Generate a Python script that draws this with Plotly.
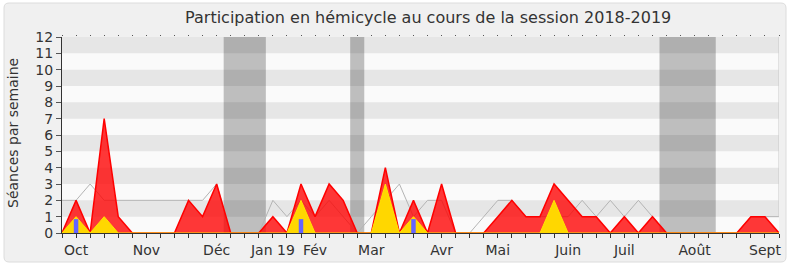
import plotly.graph_objects as go

# weekly index 0..51 (session 2018-2019)
weeks = list(range(52))
presence = [0, 2, 0, 7, 1, 0, 0, 0, 0, 2, 1, 3, 0, 0, 0, 1, 0, 3, 1, 3, 2, 0, 0, 4, 0, 2,
            0, 3, 0, 0, 0, 1, 2, 1, 1, 3, 2, 1, 1, 0, 1, 0, 1, 0, 0, 0, 0, 0, 0, 1, 1, 0]
interventions = [0, 1, 0, 1, 0, 0, 0, 0, 0, 0, 0, 0, 0, 0, 0, 0, 0, 2, 0, 0, 0, 0, 0, 3, 0, 1,
                 0, 0, 0, 0, 0, 0, 0, 0, 0, 2, 0, 0, 0, 0, 0, 0, 0, 0, 0, 0, 0, 0, 0, 0, 0, 0]
median = [2, 2, 3, 2, 2, 2, 2, 2, 2, 2, 2, 3, 0, 0, 0, 2, 1, 2, 1, 2, 1, 0, 1, 2, 3, 1,
          2, 2, 0, 0, 1, 2, 2, 1, 1, 1, 1, 2, 1, 2, 1, 2, 1, 0, 0, 0, 0, 0, 0, 1, 1, 1]
question_weeks = [1, 17, 25]
question_values = [0.85, 0.85, 0.85]

month_weeks = [1, 6, 11, 15, 18, 22, 27, 31, 36, 40, 45, 50]
month_labels = ["Oct", "Nov", "Déc", "Jan 19", "Fév", "Mar", "Avr", "Mai", "Juin", "Juil", "Août", "Sept"]
vacations = [(11.5, 14.5), (20.5, 21.5), (42.5, 46.5)]
y_ticks = list(range(13))

FONT = "DejaVu Sans"

fig = go.Figure()
fig.add_trace(go.Scatter(x=weeks, y=median, mode="lines",
                         line=dict(color="#b4b4b4", width=1), hoverinfo="skip"))
fig.add_trace(go.Scatter(x=weeks, y=presence, mode="lines", fill="tozeroy",
                         fillcolor="rgba(255,0,0,0.78)",
                         line=dict(color="#ff0000", width=1.5), hoverinfo="skip"))
fig.add_trace(go.Scatter(x=weeks, y=interventions, mode="lines", fill="tozeroy",
                         fillcolor="#ffd700",
                         line=dict(color="#ffe400", width=1), hoverinfo="skip"))
# question bars drawn as thick vertical segments so they sit above the areas
qx, qy = [], []
for w, v in zip(question_weeks, question_values):
    qx += [w, w, None]
    qy += [0, v, None]
fig.add_trace(go.Scatter(x=qx, y=qy, mode="lines", line=dict(color="#6464ff", width=4.5),
                         hoverinfo="skip"))
fig.add_trace(go.Scatter(x=[None], y=[None], xaxis="x2", showlegend=False))

L, R, T, B = 62, 11, 37, 34
W, H = 790, 267
pw, ph = W - L - R, H - T - B

def px(x):
    return (x - L) / pw

def py(y):
    return (H - B - y) / ph

# rounded frame
x0, x1, y0, y1, r = 4, 786, 3, 262, 5
path = (f"M {px(x0 + r)},{py(y0)} L {px(x1 - r)},{py(y0)} Q {px(x1)},{py(y0)} {px(x1)},{py(y0 + r)} "
        f"L {px(x1)},{py(y1 - r)} Q {px(x1)},{py(y1)} {px(x1 - r)},{py(y1)} "
        f"L {px(x0 + r)},{py(y1)} Q {px(x0)},{py(y1)} {px(x0)},{py(y1 - r)} "
        f"L {px(x0)},{py(y0 + r)} Q {px(x0)},{py(y0)} {px(x0 + r)},{py(y0)} Z")
shapes = [dict(type="path", path=path, xref="paper", yref="paper", layer="below",
               fillcolor="#f0f0f0", line=dict(color="#dcdcdc", width=1))]
shapes.append(dict(type="rect", xref="x", yref="y", x0=0, x1=51, y0=0, y1=12, layer="below",
                   fillcolor="#fafafa", line=dict(width=0)))
for a, b in vacations:
    shapes.append(dict(type="rect", xref="x", yref="y", x0=a, x1=b, y0=0, y1=12, layer="below",
                       fillcolor="#bebebe", line=dict(width=0)))
for k in range(1, 12, 2):
    shapes.append(dict(type="rect", xref="x", yref="y", x0=0, x1=51, y0=k, y1=k + 1, layer="below",
                       fillcolor="rgba(0,0,0,0.08)", line=dict(width=0)))
shapes.append(dict(type="line", xref="x", yref="y", x0=51, x1=51, y0=1, y1=12, layer="above",
                   line=dict(color="#c8c8c8", width=1)))

fig.update_layout(
    width=W, height=H,
    margin=dict(l=L, r=R, t=T, b=B, autoexpand=False),
    paper_bgcolor="white", plot_bgcolor="rgba(0,0,0,0)",
    showlegend=False,
    shapes=shapes,
    font=dict(family=FONT, color="#333333"),
    title=dict(text="Participation en hémicycle au cours de la session 2018-2019",
               x=0.542, xanchor="center", y=0.933, yanchor="middle",
               font=dict(family=FONT, size=16, color="#333333")),
    xaxis=dict(range=[0, 51], tickmode="array", tickvals=weeks,
               ticktext=[month_labels[month_weeks.index(w)] if w in month_weeks else "" for w in weeks],
               ticks="outside", ticklen=4, tickcolor="#333333", tickwidth=1,
               showline=True, linecolor="#333333", linewidth=1, automargin=False,
               showgrid=False, zeroline=False, fixedrange=True,
               tickfont=dict(family=FONT, size=14, color="#333333")),
    xaxis2=dict(range=[0, 51], overlaying="x", side="top", tickmode="array", tickvals=weeks,
                ticks="outside", ticklen=1, tickcolor="#555555", showticklabels=False,
                automargin=False, showline=False, showgrid=False, zeroline=False),
    yaxis=dict(range=[0, 12], tickmode="array", tickvals=y_ticks,
               ticks="outside", ticklen=5, tickcolor="#555555", tickwidth=1,
               showline=True, linecolor="#333333", linewidth=1, automargin=False,
               showgrid=False, zeroline=False, fixedrange=True,
               tickfont=dict(family=FONT, size=14, color="#333333")),
    annotations=[dict(text="Séances par semaine", xref="paper", yref="paper",
                      x=px(13), y=py(133), textangle=-90, showarrow=False,
                      xanchor="center", yanchor="middle",
                      font=dict(family=FONT, size=14, color="#333333"))],
)

fig.write_html("out.html")
